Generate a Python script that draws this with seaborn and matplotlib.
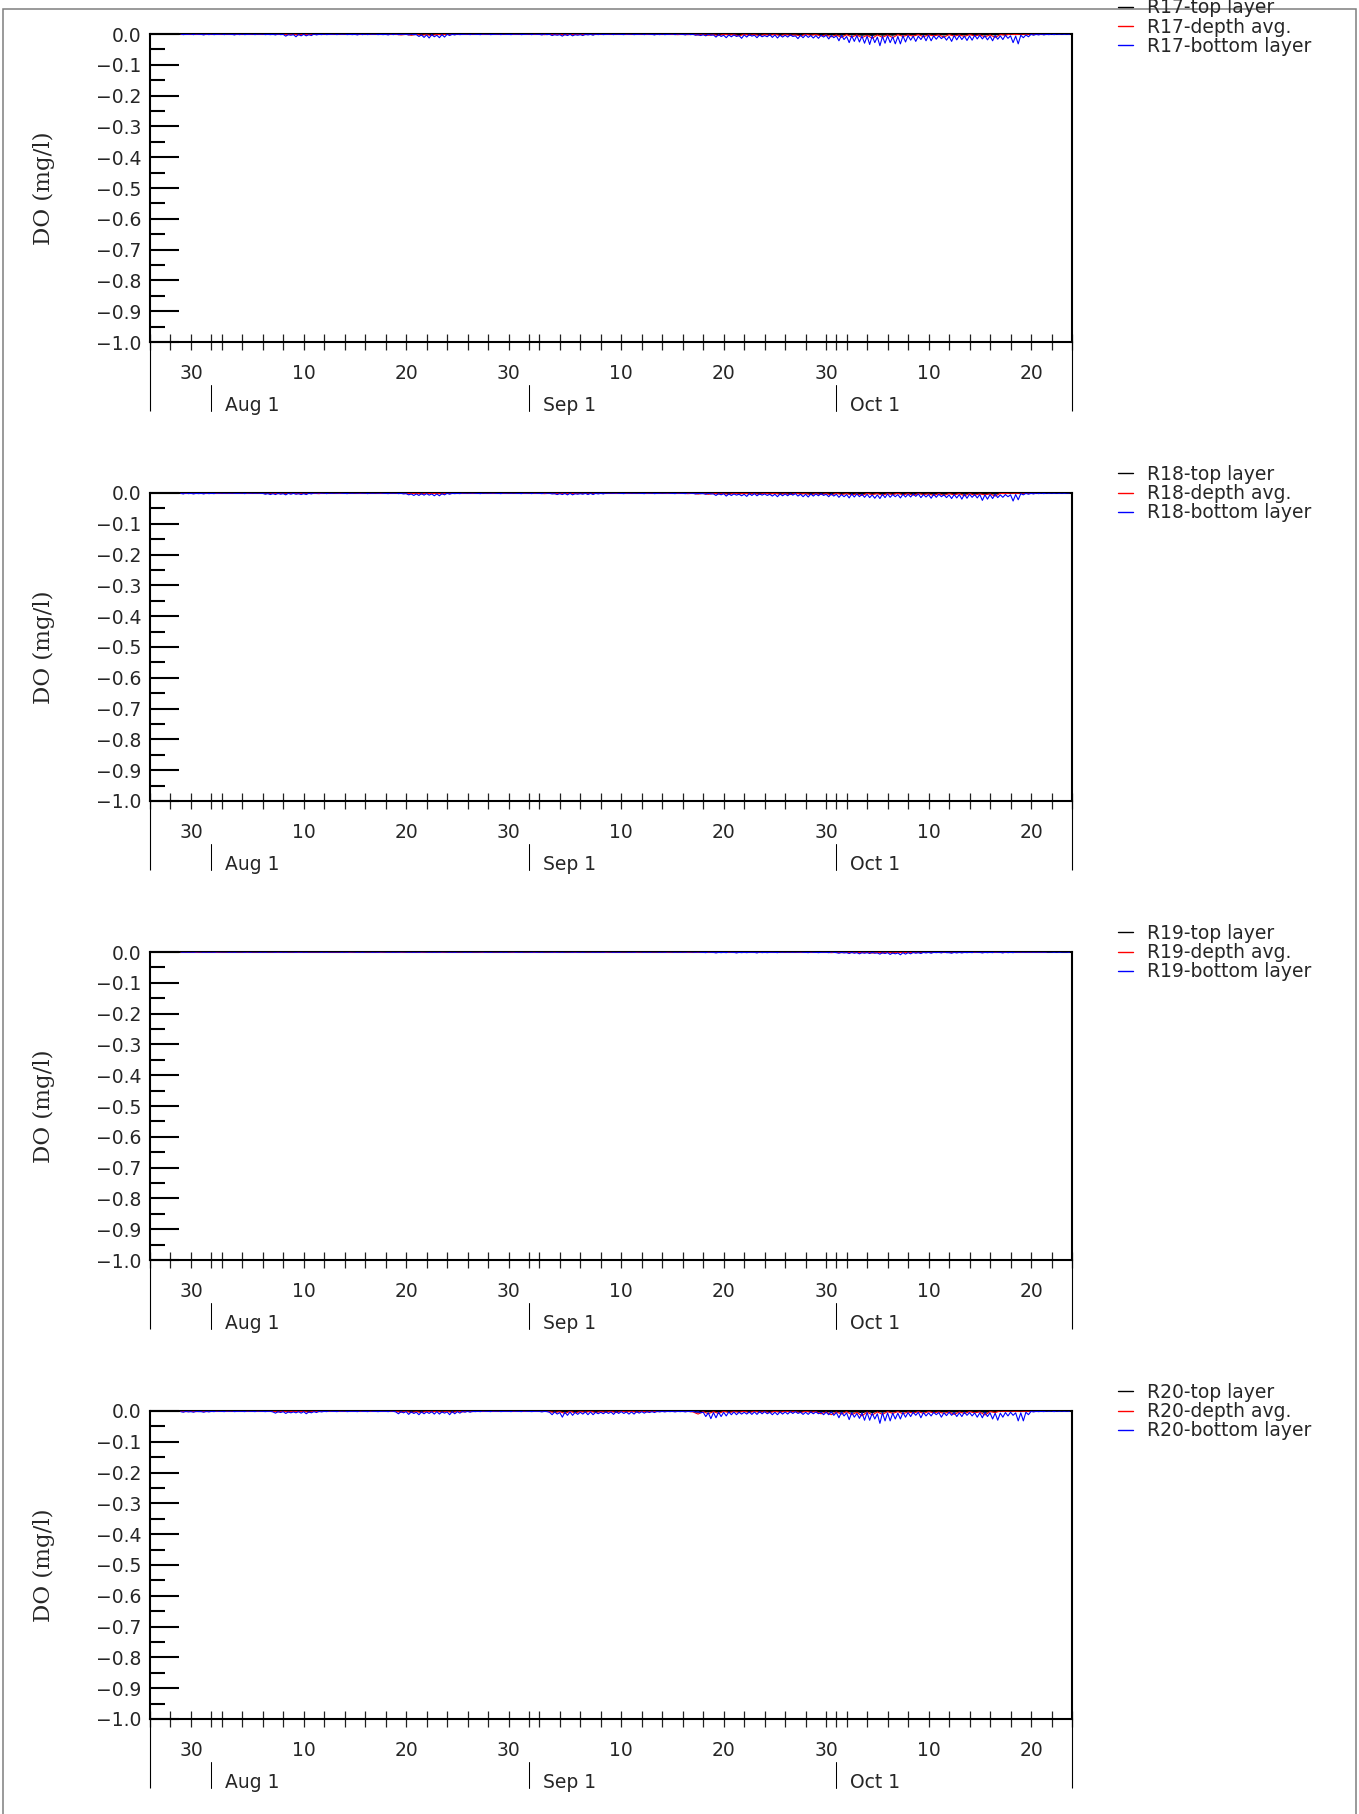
import numpy as np
import pandas as pd
import matplotlib
matplotlib.use("Agg")
import matplotlib.pyplot as plt
import matplotlib.dates as mdates
import seaborn as sns
from matplotlib.ticker import MultipleLocator, FuncFormatter
from matplotlib.transforms import blended_transform_factory
from matplotlib.patches import Rectangle

# ---------------- data (values in 0.001 mg/l, plotted as negative) ----------------
stations = ["R17", "R18", "R19", "R20"]
series_names = ["top layer", "depth avg.", "bottom layer"]
series_colors = ["black", "red", "blue"]
series_freq = ["12h", "12h", "6h"]          # sampling interval of each series
data_start = "2005-07-29 00:00"
x_start, x_end = "2005-07-26", "2005-10-24"
month_marks = ["2005-08-01", "2005-09-01", "2005-10-01"]
month_labels = ["Aug 1", "Sep 1", "Oct 1"]

# bottom layer: 6-hourly, one row per week starting Jul 29
R17_bottom = [
    0,2,1,1, 0,2,0,1, 1,3,0,2, 0,2,1,1, 0,2,0,1, 1,3,0,2, 0,2,1,1,
    0,2,0,1, 0,2,1,2, 1,3,0,2, 1,7,2,4, 2,9,1,6, 1,6,2,5, 0,3,1,2,
    0,2,1,1, 0,2,0,1, 0,2,1,2, 1,3,0,2, 0,2,0,1, 0,2,1,2, 1,3,0,2,
    0,2,1,1, 1,3,0,2, 2,8,3,11, 3,13,2,9, 4,12,2,10, 1,5,1,3, 0,2,1,1,
    0,2,0,1, 1,2,0,1, 0,2,1,1, 0,2,0,1, 1,2,0,1, 0,2,1,1, 0,2,0,1,
    1,3,0,2, 1,5,2,4, 2,7,1,5, 1,6,2,4, 2,5,1,3, 1,4,0,2, 0,2,1,1,
    0,2,0,1, 1,2,0,1, 0,2,1,1, 0,2,0,1, 1,3,0,2, 0,2,1,1, 0,2,0,1,
    1,3,0,2, 1,4,2,5, 2,6,1,4, 3,10,2,8, 4,12,3,9, 3,8,5,14, 3,10,2,7,
    4,12,3,9, 5,9,2,11, 3,13,4,10, 4,10,3,8, 6,15,4,12, 3,11,5,13, 5,14,4,10,
    4,16,5,12, 6,22,4,18, 8,28,6,24, 5,26,7,30, 7,34,6,28, 10,38,8,30, 6,28,9,32,
    8,32,6,26, 5,20,7,24, 7,18,5,22, 4,22,6,17, 6,15,8,20, 8,24,5,19, 5,18,7,21,
    6,20,4,16, 4,16,6,19, 7,22,5,17, 6,18,4,14, 6,28,7,32, 4,12,3,9, 1,4,1,3,
    0,3,1,2, 0,2,0,1, 0,1,0,1]
R17_depth = [0,1, 0,1, 0,1, 0,1, 0,0, 0,1, 0,1, 0,0, 0,1, 0,1, 1,2, 1,3, 1,2, 0,1,
             0,1, 0,0, 0,1, 0,1, 0,0, 0,1, 0,1, 1,3, 1,4, 1,4, 2,5, 1,3, 0,1, 0,1,
             0,0, 0,1, 0,1, 0,0, 0,1, 0,1, 0,1, 1,2, 1,2, 1,3, 1,2, 1,2, 0,1, 0,1,
             0,0, 0,1, 0,1, 0,1, 0,0, 0,1, 1,2, 1,2, 1,3, 2,4, 2,5, 1,3, 2,6, 1,4,
             2,5, 2,4, 1,5, 2,4, 3,6, 1,4, 2,6, 3,9, 3,11, 2,10, 3,12, 4,14, 3,11, 3,12,
             2,8, 3,7, 2,9, 3,6, 3,10, 2,7, 3,8, 2,6, 3,9, 3,11, 2,4, 0,2, 0,1, 0,1, 0,0]
R17_top = [0,0, 0,1, 0,0, 0,1, 0,0, 0,0, 0,1, 0,0, 0,0, 0,1, 0,1, 1,1, 0,1, 0,0,
           0,0, 0,0, 0,1, 0,0, 0,0, 0,0, 0,1, 0,1, 1,2, 1,2, 1,2, 0,1, 0,0, 0,0,
           0,0, 0,0, 0,1, 0,0, 0,0, 0,1, 0,0, 0,1, 0,1, 1,1, 0,1, 0,1, 0,0, 0,0,
           0,0, 0,0, 0,1, 0,0, 0,0, 0,1, 0,1, 0,1, 1,2, 1,2, 1,2, 1,1, 1,2, 1,2,
           1,2, 1,2, 1,2, 1,2, 1,3, 1,2, 1,2, 1,3, 2,4, 1,3, 2,4, 2,5, 1,4, 2,4,
           1,3, 1,3, 1,3, 1,2, 1,3, 1,2, 1,3, 1,2, 1,3, 1,3, 1,2, 0,1, 0,0, 0,0, 0,0]

R18_bottom = [
    1,3,0,2, 1,3,1,2, 1,3,0,2, 1,2,0,1, 0,1,0,1, 0,1,1,1, 0,2,0,1,
    0,1,0,1, 1,4,2,5, 2,5,1,4, 2,6,1,4, 1,4,2,5, 2,5,1,3, 0,1,0,1,
    0,2,0,1, 0,1,0,1, 1,2,0,1, 0,1,0,1, 0,2,0,1, 0,1,0,1, 1,2,0,1,
    0,2,1,3, 2,6,3,8, 3,8,2,7, 2,7,3,9, 3,9,2,6, 1,4,1,2, 1,2,0,1,
    0,1,0,1, 1,2,0,1, 0,1,0,1, 1,2,0,1, 0,1,0,1, 1,2,0,1, 0,2,0,1,
    1,2,0,1, 1,3,2,5, 2,5,1,6, 1,6,2,4, 2,4,1,5, 1,5,1,3, 1,3,0,1,
    0,1,0,1, 1,2,0,1, 0,1,0,1, 1,2,0,1, 0,2,1,1, 0,1,0,1, 1,2,0,1,
    1,2,0,1, 1,3,1,2, 2,4,1,3, 3,8,2,6, 2,10,3,8, 3,7,4,9, 4,11,2,8,
    2,9,3,7, 3,8,4,10, 4,12,3,9, 3,9,2,7, 2,10,4,12, 4,13,3,10, 3,9,2,8,
    4,12,3,10, 4,14,5,12, 5,16,3,13, 3,12,4,14, 4,15,6,17, 6,18,4,15, 3,14,5,12,
    5,16,4,13, 4,13,3,11, 3,15,5,13, 5,17,4,14, 4,12,6,15, 6,18,5,16, 5,20,4,17,
    4,14,5,16, 5,24,6,20, 5,18,4,15, 6,14,5,12, 6,26,5,22, 2,6,1,4, 1,3,0,2,
    0,2,0,1, 0,1,0,1, 0,1,0,0]
R18_depth = [0,1, 0,1, 0,1, 0,1, 0,0, 0,0, 0,1, 0,0, 0,0, 1,2, 0,1, 1,2, 0,1, 1,2,
             0,0, 0,1, 0,0, 0,1, 0,0, 0,1, 0,0, 0,1, 1,2, 1,3, 1,2, 1,3, 0,1, 0,1,
             0,1, 0,0, 0,1, 0,1, 0,0, 0,1, 0,1, 1,2, 1,2, 1,2, 1,2, 0,1, 0,1, 0,0,
             0,1, 0,1, 0,0, 0,1, 0,1, 0,1, 0,1, 1,2, 1,3, 1,4, 1,3, 2,4, 1,3, 1,3,
             2,4, 1,3, 1,4, 2,5, 1,3, 2,5, 2,5, 2,6, 1,5, 2,6, 3,8, 1,5, 2,7,
             2,5, 1,6, 2,7, 2,5, 3,8, 2,8, 2,6, 2,9, 2,7, 3,6, 3,10, 1,2, 0,1, 0,1, 0,0]
R18_top = [0,1, 0,1, 0,1, 0,1, 0,0, 0,0, 0,0, 0,0, 0,0, 0,1, 0,1, 1,1, 0,1, 0,1,
           0,0, 0,0, 0,0, 0,0, 0,0, 0,0, 0,0, 0,0, 0,1, 1,2, 0,1, 1,2, 0,1, 0,0,
           0,0, 0,0, 0,0, 0,0, 0,0, 0,0, 0,0, 0,1, 0,1, 0,1, 0,1, 0,0, 0,0, 0,0,
           0,0, 0,0, 0,0, 0,0, 0,0, 0,0, 0,1, 0,1, 1,2, 1,2, 1,2, 1,2, 1,2, 1,2,
           1,2, 1,2, 1,2, 1,3, 1,2, 1,3, 1,3, 1,3, 1,2, 1,3, 1,4, 1,3, 1,3,
           1,3, 1,3, 1,4, 1,3, 1,4, 1,4, 1,3, 1,4, 1,3, 1,3, 1,4, 0,1, 0,1, 0,0, 0,0]

R19_bottom = [
    0,1,0,1, 0,1,0,0, 0,1,0,1, 0,1,0,0, 0,0,0,1, 0,1,0,0, 0,1,0,1,
    0,0,0,1, 0,1,0,0, 0,1,0,1, 0,1,0,0, 0,1,0,1, 0,1,0,0, 0,0,0,1,
    0,1,0,0, 0,0,0,1, 0,1,0,0, 0,1,0,1, 0,0,0,1, 0,1,0,0, 0,1,0,1,
    0,1,0,0, 0,1,0,1, 0,1,0,0, 0,1,0,1, 0,1,0,0, 0,1,0,1, 0,0,0,1,
    0,1,0,0, 0,0,0,1, 0,1,0,0, 0,1,0,1, 0,0,0,1, 0,1,0,0, 0,1,0,1,
    0,1,0,0, 0,1,0,1, 0,1,0,0, 0,1,0,1, 0,1,0,0, 0,1,0,1, 0,1,0,0,
    0,1,0,1, 0,0,0,1, 0,1,0,0, 0,1,0,1, 0,0,0,1, 0,1,0,0, 0,1,0,1,
    0,1,0,0, 0,1,0,1, 1,2,0,1, 1,3,1,2, 1,2,0,1, 1,3,1,2, 1,2,1,1,
    1,3,0,2, 1,2,1,1, 1,2,0,1, 0,1,0,1, 0,1,0,1, 1,2,0,1, 1,2,1,1,
    1,2,0,1, 2,4,1,3, 2,5,1,4, 2,6,2,4, 2,5,1,4, 3,7,2,5, 2,8,3,6,
    3,9,2,7, 2,6,1,4, 2,5,1,3, 1,4,1,2, 1,3,0,2, 2,4,1,3, 1,3,1,2,
    1,2,0,1, 1,3,1,2, 1,2,0,1, 1,3,0,2, 1,2,0,1, 0,1,0,1, 0,1,0,1,
    0,1,0,0, 0,1,0,1, 0,0,0,1]
R19_depth = [0,0, 0,1, 0,0, 0,1, 0,0, 0,0, 0,1, 0,0, 0,0, 0,1, 0,0, 0,1, 0,0, 0,0,
             0,0, 0,0, 0,1, 0,0, 0,0, 0,1, 0,0, 0,1, 0,0, 0,1, 0,0, 0,1, 0,0, 0,0,
             0,0, 0,1, 0,0, 0,0, 0,1, 0,0, 0,1, 0,0, 0,1, 0,0, 0,1, 0,0, 0,0, 0,1,
             0,0, 0,0, 0,1, 0,0, 0,0, 0,1, 0,0, 0,1, 0,1, 0,1, 0,1, 1,1, 0,1, 1,1,
             0,1, 0,1, 0,0, 0,0, 0,1, 0,1, 0,1, 1,2, 1,2, 1,2, 1,2, 1,3, 1,3, 1,3,
             1,2, 1,2, 0,1, 0,1, 1,1, 0,1, 0,1, 0,1, 0,1, 0,1, 0,1, 0,0, 0,0, 0,0, 0,0]
R19_top = [0,0, 0,0, 0,0, 0,0, 0,0, 0,0, 0,0, 0,0, 0,0, 0,0, 0,0, 0,0, 0,0, 0,0,
           0,0, 0,0, 0,0, 0,0, 0,0, 0,0, 0,0, 0,0, 0,0, 0,0, 0,0, 0,0, 0,0, 0,0,
           0,0, 0,0, 0,0, 0,0, 0,0, 0,0, 0,0, 0,0, 0,0, 0,0, 0,0, 0,0, 0,0, 0,0,
           0,0, 0,0, 0,0, 0,0, 0,0, 0,0, 0,0, 0,0, 0,1, 0,1, 0,1, 0,1, 0,1, 0,1,
           0,1, 0,1, 0,0, 0,0, 0,1, 0,1, 0,1, 0,1, 1,1, 0,1, 1,1, 1,2, 1,2, 1,2,
           0,1, 0,1, 0,1, 0,1, 0,1, 0,1, 0,1, 0,1, 0,1, 0,1, 0,1, 0,0, 0,0, 0,0, 0,0]

R20_bottom = [
    2,4,1,3, 2,4,1,2, 2,4,1,3, 1,2,0,1, 1,2,0,1, 0,2,1,1, 1,2,0,1,
    1,2,0,1, 1,2,1,1, 3,7,2,5, 2,8,3,6, 3,6,2,7, 2,9,3,6, 2,5,1,3,
    1,2,0,1, 1,2,0,1, 0,2,1,1, 1,2,0,1, 1,2,0,1, 1,2,1,1, 1,2,0,1,
    3,9,2,6, 2,11,3,8, 4,12,3,9, 3,8,2,10, 2,10,3,7, 3,12,2,9, 2,7,1,4,
    1,4,1,2, 1,2,0,1, 1,2,0,1, 0,2,1,1, 1,2,0,1, 1,2,0,1, 1,2,1,1,
    1,3,1,2, 4,12,3,10, 5,20,4,14, 3,14,4,11, 4,10,3,12, 3,12,4,9, 4,9,3,8,
    3,11,2,8, 2,8,3,10, 3,10,2,7, 2,7,2,5, 2,5,1,3, 1,3,1,2, 1,3,1,2,
    1,3,1,2, 1,4,2,6, 4,18,6,25, 5,22,4,18, 4,16,3,12, 3,12,4,10, 4,10,3,11,
    3,11,2,9, 2,9,4,12, 4,12,3,10, 3,10,2,8, 2,8,4,11, 4,11,3,9, 3,9,4,12,
    4,12,3,14, 5,22,4,16, 6,28,5,20, 8,24,6,30, 5,30,7,26, 9,40,6,32, 6,32,7,26,
    7,26,5,20, 5,18,4,14, 4,22,5,16, 6,16,4,12, 5,20,6,15, 4,14,5,18, 6,18,4,14,
    5,16,6,20, 6,22,4,18, 6,26,7,30, 7,20,5,16, 4,14,6,32, 6,32,4,12, 1,3,1,2,
    1,2,0,1, 0,2,0,1, 0,1,0,1]
R20_depth = [1,2, 1,2, 1,2, 0,1, 0,1, 0,1, 0,1, 0,1, 0,1, 1,3, 1,3, 1,2, 1,4, 1,2,
             0,1, 0,1, 0,1, 0,1, 0,1, 0,1, 0,1, 1,4, 1,5, 2,5, 1,3, 1,4, 1,5, 1,3,
             0,2, 0,1, 0,1, 0,1, 0,1, 0,1, 0,1, 0,1, 2,5, 2,8, 1,6, 2,4, 1,5, 2,4,
             1,5, 1,3, 1,4, 1,3, 1,2, 0,1, 0,1, 0,1, 3,10, 2,9, 2,8, 1,5, 2,4, 1,5,
             1,4, 2,5, 1,4, 1,3, 2,5, 1,4, 2,9, 3,12, 3,10, 2,12, 4,16, 3,13, 3,11,
             2,8, 2,9, 3,7, 2,8, 2,6, 3,8, 3,11, 3,8, 2,6, 3,13, 2,5, 0,1, 0,1, 0,1, 0,0]
R20_top = [0,1, 0,1, 0,1, 0,0, 0,0, 0,0, 0,0, 0,0, 0,0, 0,1, 0,1, 0,1, 0,1, 0,0,
           0,0, 0,0, 0,0, 0,0, 0,0, 0,0, 0,0, 0,1, 1,2, 1,2, 0,1, 0,1, 1,2, 0,1,
           0,0, 0,0, 0,0, 0,0, 0,0, 0,0, 0,0, 0,0, 1,2, 1,3, 1,2, 1,2, 1,2, 0,1,
           0,1, 0,1, 0,1, 0,1, 0,1, 0,0, 0,0, 0,0, 1,4, 1,3, 1,3, 1,2, 1,2, 1,2,
           1,2, 1,2, 1,2, 0,1, 1,2, 1,2, 1,3, 1,4, 1,4, 1,4, 2,6, 1,5, 1,4,
           1,3, 1,3, 1,3, 1,3, 1,2, 1,3, 1,4, 1,3, 1,2, 1,5, 1,2, 0,0, 0,0, 0,0, 0,0]

panel_data = {
    "R17": [R17_top, R17_depth, R17_bottom],
    "R18": [R18_top, R18_depth, R18_bottom],
    "R19": [R19_top, R19_depth, R19_bottom],
    "R20": [R20_top, R20_depth, R20_bottom],
}

# ---------------- style ----------------
sns.set_style("white")
plt.rcParams["font.family"] = ["DejaVu Sans"]
plt.rcParams["axes.unicode_minus"] = True

W, H = 1359, 1814
fig = plt.figure(figsize=(W / 100, H / 100), dpi=100)
fig.patch.set_facecolor("white")

# outer frame (its bottom edge lies below the picture)
fig.add_artist(Rectangle((3 / W, -0.01), 1353 / W, 1 - 9 / H + 0.01,
                         transform=fig.transFigure, fill=False,
                         edgecolor="#7f7f7f", lw=1.1, zorder=0))

left_px, right_px = 150, 1072
panel_tops = [34, 493, 952, 1411]
panel_h = 308
legend_mid = [1.0227, 0.998, 0.998, 0.998]

def ylab(v, pos):
    s = f"{v:.1f}"
    if s == "-0.0":
        s = "0.0"
    return s.replace("-", "\u2212")

ext = -69 / panel_h       # side lines end 69 px below the axis
m_top = -43 / panel_h     # month marker top
m_text = -69 / panel_h    # month label baseline

for k, st in enumerate(stations):
    top = panel_tops[k]
    ax = fig.add_axes([left_px / W, 1 - (top + panel_h) / H,
                       (right_px - left_px) / W, panel_h / H])
    for name, color, freq, vals in zip(series_names, series_colors, series_freq,
                                       panel_data[st]):
        times = pd.date_range(data_start, periods=len(vals), freq=freq)
        df = pd.DataFrame({"time": times, "value": -0.001 * np.asarray(vals, float)})
        sns.lineplot(data=df, x="time", y="value", color=color, lw=0.8,
                     label=f"{st}-{name}", ax=ax, zorder=3)

    ax.set_xlim(pd.Timestamp(x_start), pd.Timestamp(x_end))
    ax.set_ylim(-1.0, 0.0)
    ax.set_xlabel("")
    ax.set_ylabel("DO (mg/l)", family="DejaVu Serif", fontsize=16.5)
    ax.yaxis.set_label_coords(-0.103, 0.5)

    for sp in ax.spines.values():
        sp.set_visible(True)
        sp.set_color("black")
        sp.set_linewidth(1.5)

    # y ticks
    ax.yaxis.set_major_locator(MultipleLocator(0.1))
    ax.yaxis.set_minor_locator(MultipleLocator(0.05))
    ax.yaxis.set_major_formatter(FuncFormatter(ylab))
    ax.tick_params(axis="y", which="major", direction="in", length=21, width=1.5,
                   color="black", labelsize=13.5, pad=6, left=True, right=False)
    ax.tick_params(axis="y", which="minor", direction="in", length=10.8, width=1.5,
                   color="black", left=True, right=False)

    # x ticks
    ax.xaxis.set_major_locator(mdates.DayLocator(bymonthday=[10, 20, 30]))
    ax.xaxis.set_minor_locator(mdates.DayLocator(
        bymonthday=[1, 2, 4, 6, 8, 12, 14, 16, 18, 22, 24, 26, 28]))
    ax.xaxis.set_major_formatter(mdates.DateFormatter("%-d"))
    ax.tick_params(axis="x", which="both", direction="inout", length=11.5,
                   width=0.9, color="#222222", bottom=True, top=False)
    ax.tick_params(axis="x", which="major", labelsize=13.5, pad=10)

    # extended side lines below the axis + month markers
    trans = blended_transform_factory(ax.transData, ax.transAxes)
    ax.vlines([0, 1], ext, 0, transform=ax.transAxes, clip_on=False,
              color="black", lw=0.8)
    for md, ml in zip(month_marks, month_labels):
        xm = mdates.date2num(pd.Timestamp(md))
        ax.plot([xm, xm], [ext, m_top], transform=trans, clip_on=False,
                color="black", lw=0.75)
        ax.annotate(ml, xy=(xm, m_text), xycoords=trans, xytext=(10, 0),
                    textcoords="offset points", ha="left", va="baseline",
                    fontsize=13.5, annotation_clip=False)

    leg = ax.legend(loc="center left", bbox_to_anchor=(1.0499, legend_mid[k]),
                    frameon=False, fontsize=13.5, handlelength=0.8,
                    handletextpad=0.75, labelspacing=0.02, borderpad=0,
                    borderaxespad=0)
    for line in leg.get_lines():
        line.set_linewidth(1.0)

fig.savefig("out.png", dpi=100, facecolor="white")
